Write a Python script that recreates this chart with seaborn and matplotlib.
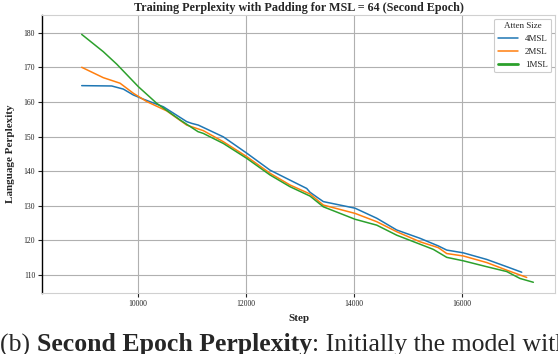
import pandas as pd
import matplotlib
matplotlib.use("Agg")
import matplotlib.pyplot as plt
import seaborn as sns
from matplotlib.lines import Line2D

# values
steps_4msl = [8957, 9513, 9728, 9913, 10098, 10469, 10902, 10994, 11117, 11580, 12013, 12444,
              12815, 13124, 13185, 13339, 13432, 14019, 14421, 14791, 15222, 15561, 15717,
              16024, 16457, 16828, 17106]
ppl_4msl = [164.7, 164.6, 163.7, 162.0, 160.8, 158.6, 154.3, 153.8, 153.3, 149.9, 145.2, 140.3,
            137.4, 135.0, 133.9, 132.2, 131.2, 129.3, 126.4, 123.0, 120.6, 118.4, 117.2,
            116.4, 114.5, 112.4, 110.8]

steps_2msl = [8957, 9357, 9667, 9913, 10161, 10532, 10902, 11209, 11580, 12013, 12444, 12815,
              13185, 13432, 14019, 14421, 14791, 15222, 15561, 15717, 16024, 16457, 16828, 17198]
ppl_2msl = [170.0, 167.0, 165.4, 162.5, 160.1, 157.4, 153.3, 151.7, 148.5, 144.2, 139.4, 136.0,
            133.4, 130.2, 127.8, 125.4, 122.5, 119.6, 117.9, 116.2, 115.5, 113.6, 111.4, 109.3]

steps_1msl = [8957, 9357, 9606, 10006, 10346, 10778, 11111, 11209, 11580, 12013, 12444, 12815,
              13185, 13432, 14019, 14421, 14791, 15222, 15469, 15717, 16024, 16457, 16828,
              17074, 17321]
ppl_1msl = [179.5, 174.5, 170.9, 164.4, 159.6, 154.8, 151.4, 150.9, 148.0, 143.7, 138.9, 135.5,
            132.8, 129.7, 126.1, 124.4, 121.5, 118.9, 117.4, 115.1, 114.1, 112.4, 111.0,
            109.0, 107.9]

labels = ["4MSL", "2MSL", "1MSL"]
colors = ["#1f77b4", "#ff7f0e", "#2ca02c"]

df = pd.concat([
    pd.DataFrame({"Step": steps_4msl, "ppl": ppl_4msl, "Atten Size": "4MSL"}),
    pd.DataFrame({"Step": steps_2msl, "ppl": ppl_2msl, "Atten Size": "2MSL"}),
    pd.DataFrame({"Step": steps_1msl, "ppl": ppl_1msl, "Atten Size": "1MSL"}),
])

sns.set_theme(style="whitegrid")
plt.rcParams["font.family"] = ["Liberation Serif", "DejaVu Serif"]

fig = plt.figure(figsize=(5.58, 3.54), dpi=100)
ax = fig.add_axes([0.0753, 0.1723, 0.9193, 0.7853])

sns.lineplot(data=df, x="Step", y="ppl", hue="Atten Size", hue_order=labels,
             palette=colors, linewidth=1.1, ax=ax, legend=False)

ax.set_xlim(8222, 17722)
ax.set_ylim(104.8, 185.1)
ax.set_xticks([10000, 12000, 14000, 16000])
ax.set_yticks([110, 120, 130, 140, 150, 160, 170, 180])
ax.grid(True, color="#b0b0b0", linewidth=0.8)
ax.tick_params(axis="both", labelsize=5.5, length=3, width=0.8, colors="#222222",
               bottom=True, left=True, pad=2)

for side in ["top", "right", "bottom"]:
    ax.spines[side].set_color("#d0d0d0")
    ax.spines[side].set_linewidth(0.8)
ax.spines["left"].set_color("black")
ax.spines["left"].set_linewidth(1.0)

ax.set_title("Training Perplexity with Padding for MSL = 64 (Second Epoch)",
             fontsize=8.7, fontweight="bold", pad=3)
ax.set_xlabel("Step", fontsize=8, fontweight="bold", labelpad=4)
ax.set_ylabel("Language Perplexity", fontsize=8, fontweight="bold", labelpad=6)

handles = [Line2D([], [], color=colors[0], lw=1.1),
           Line2D([], [], color=colors[1], lw=1.1),
           Line2D([], [], color=colors[2], lw=2.0)]
leg = ax.legend(handles, labels, title="Atten Size", loc="upper right",
                fontsize=6.5, title_fontsize=6.5, frameon=True, framealpha=1,
                borderaxespad=0.4, handlelength=2.2)
leg.get_frame().set_edgecolor("#cccccc")
leg.get_frame().set_linewidth(0.8)

# cut-off caption from the paper below the chart
fig.canvas.draw()
r = fig.canvas.get_renderer()
x0 = 0.0
yb = 0.008
parts = [("(b) ", "normal"), ("Second Epoch Perplexity", "bold"),
         (": Initially the model with", "normal")]
for txt, w in parts:
    t = fig.text(x0, yb, txt, fontsize=18.5, fontweight=w, va="baseline", ha="left")
    bb = t.get_window_extent(renderer=r)
    x0 += bb.width / fig.bbox.width

fig.savefig("out.png", dpi=100)
